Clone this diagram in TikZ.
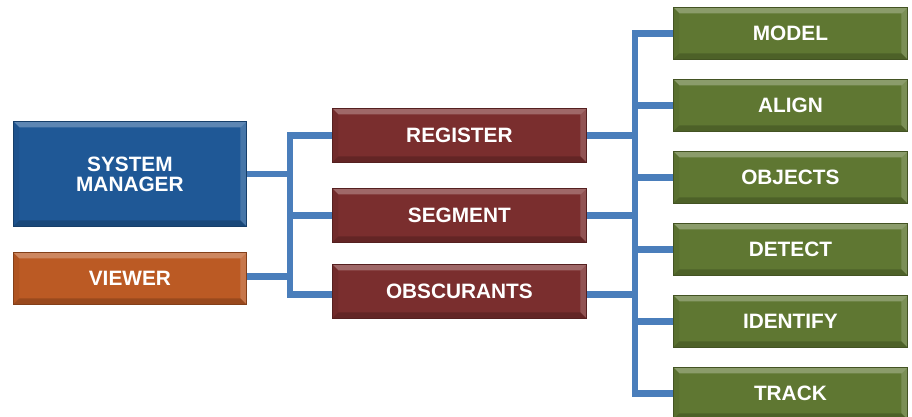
\documentclass[tikz,border=0pt]{standalone}
\usepackage{fontspec}
\setmainfont{Liberation Sans}
\usetikzlibrary{calc}

\definecolor{smblue}{RGB}{31,88,150}
\definecolor{vworange}{RGB}{187,90,36}
\definecolor{procred}{RGB}{122,46,46}
\definecolor{taskgreen}{RGB}{95,119,50}
\definecolor{linkblue}{RGB}{74,126,187}

\tikzset{
  bevelbox/.style={
    rectangle, draw=#1!70!black, line width=0.8pt, fill=#1,
    text=white, font=\bfseries\fontsize{20.8}{23}\selectfont, align=center,
    anchor=north west, inner sep=0pt,
    path picture={
      \def\bv{6pt}
      \coordinate (pnw) at (path picture bounding box.north west);
      \coordinate (pne) at (path picture bounding box.north east);
      \coordinate (psw) at (path picture bounding box.south west);
      \coordinate (pse) at (path picture bounding box.south east);
      \coordinate (inw) at ([shift={(\bv,-\bv)}]pnw);
      \coordinate (ine) at ([shift={(-\bv,-\bv)}]pne);
      \coordinate (isw) at ([shift={(\bv,\bv)}]psw);
      \coordinate (ise) at ([shift={(-\bv,\bv)}]pse);
      \fill[white,opacity=0.28] (pnw) -- (pne) -- (ine) -- (inw) -- cycle;
      \fill[white,opacity=0.18] (pne) -- (pse) -- (ise) -- (ine) -- cycle;
      \fill[black,opacity=0.06] (pnw) -- (psw) -- (isw) -- (inw) -- cycle;
      \fill[black,opacity=0.18] (psw) -- (pse) -- (ise) -- (isw) -- cycle;
    }
  },
  leftbox/.style={minimum width=233pt, minimum height=52pt},
  midbox/.style={bevelbox=procred, minimum width=254pt, minimum height=54pt},
  rightbox/.style={bevelbox=taskgreen, minimum width=234pt, minimum height=52pt},
  link/.style={draw=linkblue, line width=6.5pt, line join=miter, line cap=butt}
}

\begin{document}
\begin{tikzpicture}[x=1pt,y=-1pt]
  \useasboundingbox (0,0) rectangle (912,417);

  % bus positions
  \coordinate (lbus) at (290,0);
  \coordinate (rbus) at (635,0);

  % left column
  \node[bevelbox=smblue, leftbox, minimum height=105pt] (sm) at (13,121) {SYSTEM\\[-3pt]MANAGER};
  \node[bevelbox=vworange, leftbox] (vw) at (13,252) {VIEWER};

  % middle column
  \node[midbox] (reg) at (332,108) {REGISTER};
  \node[midbox] (seg) at (332,188) {SEGMENT};
  \node[midbox] (obs) at (332,264) {OBSCURANTS};

  % right column
  \node[rightbox] (model) at (673,7)   {MODEL};
  \node[rightbox] (align) at (673,79)  {ALIGN};
  \node[rightbox] (objs)  at (673,151) {OBJECTS};
  \node[rightbox] (det)   at (673,223) {DETECT};
  \node[rightbox] (ident) at (673,295) {IDENTIFY};
  \node[rightbox] (track) at (673,367) {TRACK};

  % left bus
  \draw[link] (reg.west) -- (reg.west -| lbus) -- ([yshift=-3pt]obs.west -| lbus) -- ([yshift=-3pt]obs.west);
  \draw[link] (seg.west) -- (seg.west -| lbus);
  \draw[link] (sm.east) -- (sm.east -| lbus);
  \draw[link] ([yshift=2pt]vw.east) -- ([yshift=2pt]vw.east -| lbus);

  % right bus
  \draw[link] (model.west) -- (model.west -| rbus) -- (track.west -| rbus) -- (track.west);
  \foreach \n in {align,objs,det,ident}
    \draw[link] (\n.west) -- (\n.west -| rbus);
  \draw[link] (reg.east) -- (reg.east -| rbus);
  \draw[link] (seg.east) -- (seg.east -| rbus);
  \draw[link] ([yshift=-3pt]obs.east) -- ([yshift=-3pt]obs.east -| rbus);
\end{tikzpicture}
\end{document}
